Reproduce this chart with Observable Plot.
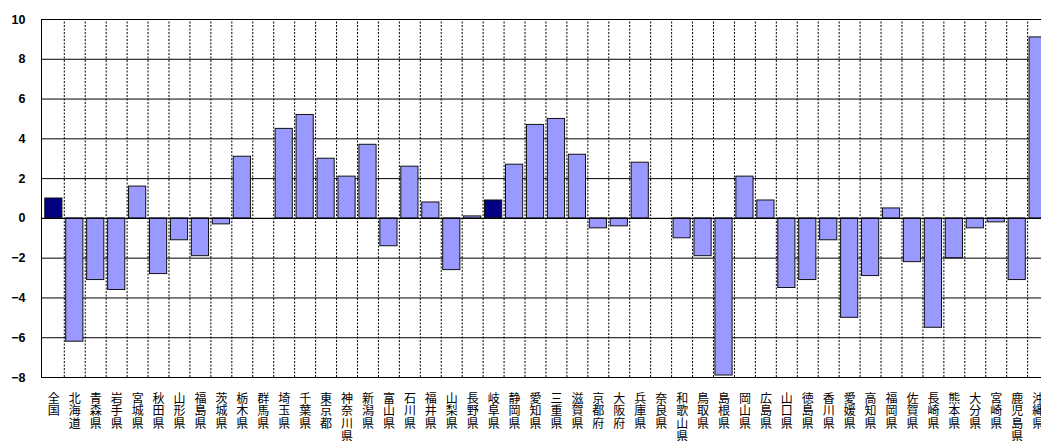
<!DOCTYPE html>
<html>
<head>
<meta charset="utf-8">
<script src="https://cdn.jsdelivr.net/npm/d3@7"></script>
<script src="https://cdn.jsdelivr.net/npm/@observablehq/plot@0.6"></script>
<style>
  html, body { margin: 0; padding: 0; background: #fff; overflow: hidden; width: 1041px; height: 441px; }
  #chart { width: 1041px; height: 441px; overflow: hidden; }
  #chart svg { display: block; max-width: none !important; }
</style>
</head>
<body>
<div id="chart"></div>
<script>
const names = ["全国","北海道","青森県","岩手県","宮城県","秋田県","山形県","福島県","茨城県","栃木県","群馬県","埼玉県","千葉県","東京都","神奈川県","新潟県","富山県","石川県","福井県","山梨県","長野県","岐阜県","静岡県","愛知県","三重県","滋賀県","京都府","大阪府","兵庫県","奈良県","和歌山県","鳥取県","島根県","岡山県","広島県","山口県","徳島県","香川県","愛媛県","高知県","福岡県","佐賀県","長崎県","熊本県","大分県","宮崎県","鹿児島県","沖縄県"];
const values = [1.0,-6.2,-3.1,-3.6,1.6,-2.8,-1.1,-1.9,-0.3,3.1,0.0,4.5,5.2,3.0,2.1,3.7,-1.4,2.6,0.8,-2.6,0.1,0.9,2.7,4.7,5.0,3.2,-0.5,-0.4,2.8,0.0,-1.0,-1.9,-7.9,2.1,0.9,-3.5,-3.1,-1.1,-5.0,-2.9,0.5,-2.2,-5.5,-2.0,-0.5,-0.2,-3.1,9.1];
const highlighted = ["全国","岐阜県"];
const yTicks = [-8,-6,-4,-2,0,2,4,6,8,10];

const data = names.map((name, i) => ({name, value: values[i], hi: highlighted.includes(name)}));

const W = 1060, mL = 41, mR = 10;
const step = (W - mL - mR) / names.length;

const chart = Plot.plot({
  width: W,
  height: 441,
  marginLeft: mL,
  marginRight: mR,
  marginTop: 19,
  marginBottom: 64,
  style: {fontFamily: "'Liberation Sans', Arial, sans-serif", background: "#fff", maxWidth: "none"},
  x: {domain: names, padding: 0.18, axis: null},
  y: {domain: [-8, 10], ticks: yTicks, axis: null},
  marks: [
    Plot.ruleY(yTicks, {stroke: "#000", strokeWidth: 1}),
    Plot.ruleX(names.slice(1), {x: d => d, dx: -step / 2, y1: -8, y2: 10, stroke: "#000", strokeWidth: 1, strokeDasharray: "2,1.5"}),
    Plot.barY(data, {x: "name", y: "value", fill: d => d.hi ? "#000080" : "#9999FF", stroke: "#111", strokeWidth: 1}),
    Plot.ruleY([0], {stroke: "#000", strokeWidth: 1}),
    Plot.frame({anchor: "left", stroke: "#000"}),
    Plot.axisY(yTicks, {label: null, tickSize: 0, tickPadding: 16, fontSize: 12.5, fontWeight: "bold", fill: "#000"}),
    Plot.text(names, {
      x: d => d,
      y: -8,
      text: d => Array.from(d).join("\n"),
      lineAnchor: "top",
      dy: 16,
      lineHeight: 1.07,
      fontSize: 12,
      fontFamily: "'Noto Sans CJK JP', sans-serif",
      fill: "#000"
    })
  ]
});
document.getElementById("chart").appendChild(chart);
</script>
</body>
</html>
